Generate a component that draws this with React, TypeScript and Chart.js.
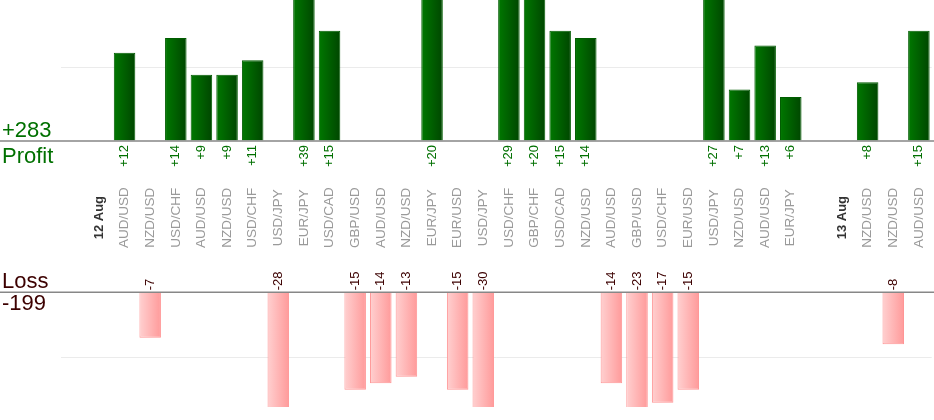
import { useEffect, useRef } from "react"
import { Chart, registerables } from "chart.js"

Chart.register(...registerables)

// one slot per trade, with day separators ("" = empty slot)
const categories = [
  "", "12 Aug",
  "AUD/USD", "NZD/USD", "USD/CHF", "AUD/USD", "NZD/USD", "USD/CHF", "USD/JPY", "EUR/JPY",
  "USD/CAD", "GBP/USD", "AUD/USD", "NZD/USD", "EUR/JPY", "EUR/USD", "USD/JPY", "USD/CHF",
  "GBP/CHF", "USD/CAD", "NZD/USD", "AUD/USD", "GBP/USD", "USD/CHF", "EUR/USD", "USD/JPY",
  "NZD/USD", "AUD/USD", "EUR/JPY", "",
  "13 Aug",
  "NZD/USD", "NZD/USD", "AUD/USD",
]
const dayMarks = ["12 Aug", "13 Aug"]

const profit = [
  null, null,
  12, null, 14, 9, 9, 11, null, 39,
  15, null, null, null, 20, null, null, 29,
  20, 15, 14, null, null, null, null, 27,
  7, 13, 6, null,
  null,
  8, null, 15,
]
const loss = [
  null, null,
  null, -7, null, null, null, null, -28, null,
  null, -15, -14, -13, null, -15, -30, null,
  null, null, null, -14, -23, -17, -15, null,
  null, null, null, null,
  null,
  null, -8, null,
]

const BAR_PCT = 0.84
const FONT = "'Liberation Sans', Arial, sans-serif"

const sum = (a: (number | null)[]) => a.reduce<number>((s, v) => s + (v ?? 0), 0)

function barGradient(left: string, right: string) {
  return (ctx: any) => {
    const chart = ctx.chart
    const x = chart.scales?.x
    if (ctx.type !== "data" || !chart.chartArea || !x) return right
    const cx = x.getPixelForValue(ctx.dataIndex)
    const half = ((x.width / categories.length) * BAR_PCT) / 2
    const g = chart.ctx.createLinearGradient(cx - half, 0, cx + half, 0)
    g.addColorStop(0, left)
    g.addColorStop(1, right)
    return g
  }
}

const labelPlugin = {
  id: "tradeLabels",
  afterDatasetsDraw(chart: any) {
    const { ctx, scales } = chart
    const x = scales.x
    const p0 = scales.yP.getPixelForValue(0)
    const l0 = scales.yL.getPixelForValue(0)

    ctx.save()
    // zero lines across the whole width
    ctx.strokeStyle = "#878787"
    ctx.lineWidth = 1.5
    ctx.beginPath()
    ctx.moveTo(0, p0)
    ctx.lineTo(chart.width, p0)
    ctx.moveTo(0, l0)
    ctx.lineTo(chart.width, l0)
    ctx.stroke()

    const vertical = (text: string, px: number, py: number, align: CanvasTextAlign) => {
      ctx.save()
      ctx.translate(px, py)
      ctx.rotate(-Math.PI / 2)
      ctx.textAlign = align
      ctx.textBaseline = "middle"
      ctx.fillText(text, 0, 0)
      ctx.restore()
    }

    // pair names / days in the middle band
    const midY = (p0 + l0) / 2 + 1
    categories.forEach((c, i) => {
      if (!c) return
      const px = x.getPixelForValue(i)
      if (dayMarks.includes(c)) {
        ctx.font = `bold 13px ${FONT}`
        ctx.fillStyle = "#333333"
      } else {
        ctx.font = `13.5px ${FONT}`
        ctx.fillStyle = "#9a9a9a"
      }
      vertical(c, px, midY, "center")
    })

    ctx.font = `13px ${FONT}`
    ctx.fillStyle = "#007000"
    profit.forEach((v, i) => {
      if (v == null) return
      vertical(`+${v}`, x.getPixelForValue(i), p0 + 4, "right")
    })
    ctx.fillStyle = "#3c0000"
    loss.forEach((v, i) => {
      if (v == null) return
      vertical(`${v}`, x.getPixelForValue(i), l0 - 2, "left")
    })

    // totals on the left
    ctx.font = `22px ${FONT}`
    ctx.textAlign = "left"
    ctx.textBaseline = "alphabetic"
    ctx.fillStyle = "#007000"
    ctx.fillText(`+${sum(profit)}`, 2, p0 - 4)
    ctx.fillText("Profit", 2, p0 + 22)
    ctx.fillStyle = "#3c0000"
    ctx.fillText("Loss", 2, l0 - 4)
    ctx.fillText(`${sum(loss)}`, 2, l0 + 18)
    ctx.restore()
  },
}

const hiddenAxis = (min: number, max: number, gridAt: number) => ({
  type: "linear" as const,
  position: "left" as const,
  min,
  max,
  ticks: { display: false, stepSize: 10 },
  border: { display: false },
  grid: {
    drawTicks: false,
    lineWidth: 1,
    color: (c: any) => (c.tick && c.tick.value === gridAt ? "#ebebeb" : "rgba(0,0,0,0)"),
  },
})

export default function App() {
  const canvasRef = useRef<HTMLCanvasElement>(null)

  useEffect(() => {
    const ctx = canvasRef.current?.getContext("2d")
    if (!ctx) return

    const chart = new Chart(ctx, {
      type: "bar",
      data: {
        labels: categories,
        datasets: [
          {
            label: "Profit",
            data: profit,
            yAxisID: "yP",
            grouped: false,
            backgroundColor: barGradient("#007800", "#004600"),
            borderColor: "#005c00",
            borderWidth: 1,
            barPercentage: BAR_PCT,
            categoryPercentage: 1,
          },
          {
            label: "Loss",
            data: loss,
            yAxisID: "yL",
            grouped: false,
            backgroundColor: barGradient("#ffd0d0", "#ff9a9a"),
            borderColor: "#ff9595",
            borderWidth: 1,
            barPercentage: BAR_PCT,
            categoryPercentage: 1,
          },
        ],
      },
      options: {
        animation: false,
        responsive: true,
        maintainAspectRatio: false,
        events: [],
        layout: { padding: { left: 60.5, right: 2.3, top: 0, bottom: 13 } },
        plugins: {
          legend: { display: false },
          tooltip: { enabled: false },
        },
        scales: {
          x: { display: false },
          yP: hiddenAxis(-36.19, 19.18, 10),
          yL: hiddenAxis(-17.65, 44.97, -10),
        },
      },
      plugins: [labelPlugin],
    } as any)

    return () => {
      chart.destroy()
    }
  }, [])

  return (
    <div style={{ position: "fixed", left: 0, top: 0, width: 934, height: 420 }}>
      <canvas ref={canvasRef}></canvas>
    </div>
  )
}
